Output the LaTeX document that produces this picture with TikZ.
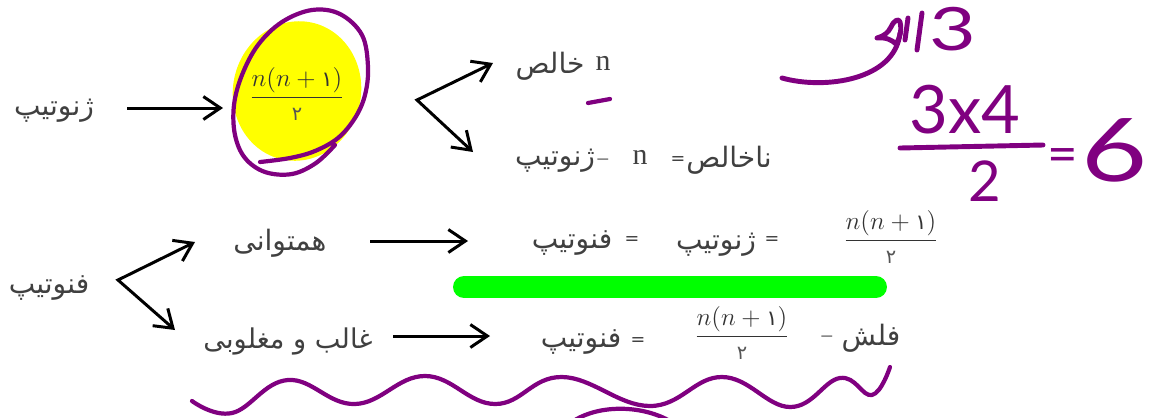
\documentclass[tikz,border=0pt]{standalone}
\usepackage{amsmath}
\usepackage{fontspec}
\usetikzlibrary{arrows.meta}
\TeXXeTstate=1
\newfontfamily\fa[Script=Arabic]{DejaVu Sans}
\newfontfamily\ser{Liberation Serif}
\newfontfamily\hand{Lato}
\definecolor{txt}{HTML}{404040}
\definecolor{frc}{HTML}{333333}
\definecolor{dig}{HTML}{555555}
\definecolor{pur}{HTML}{800080}
\definecolor{grn}{HTML}{00FF00}
\definecolor{yel}{HTML}{FFFF00}
\newcommand\rtl[1]{\beginR#1\endR}
\newcommand\nfrac{$\dfrac{n(n+\mbox{\fa\fontsize{12}{13}\selectfont ۱})}{\mbox{\fa\fontsize{11}{12}\selectfont\color{dig}۲}}$}
\tikzset{
  arr/.style={-{Straight Barb[length=3.4mm,width=4.6mm]}, line width=1.7pt, black},
  arrtwo/.style={{Straight Barb[length=3.4mm,width=4.6mm]}-{Straight Barb[length=3.4mm,width=4.6mm]}, line width=1.7pt, black, line join=miter},
  fatext/.style={font=\fa\fontsize{16}{19}\selectfont, text=txt, inner sep=0pt},
  lat/.style={font=\ser\fontsize{17}{20}\selectfont, text=txt, inner sep=0pt},
  sym/.style={font=\fa\fontsize{10}{12}\selectfont, text=txt, inner sep=0pt},
  dashsym/.style={font=\ser\fontsize{12}{14}\selectfont, text=txt, inner sep=0pt},
  fracnode/.style={font=\fontsize{14}{17}\selectfont, text=frc, inner sep=0pt},
  hw/.style={font=\hand\fontsize{38}{40}\selectfont, text=pur, inner sep=0pt},
  pen/.style={draw=pur, line width=2.4pt, line cap=round, line join=round},
  hpen/.style={draw=pur, line width=2.8pt, line cap=round, line join=round},
}
\begin{document}
\begin{tikzpicture}[x=0.02cm,y=-0.02cm]
\clip (0,0) rectangle (1157,417);
\fill[white] (0,0) rectangle (1157,417);
% green highlight
\coordinate (gA) at (464,287);
\coordinate (gB) at (876,287);
\draw[grn, line width=12.5pt, line cap=round] (gA) -- (gB);
% yellow blob and purple loop
\fill[yel, rotate around={-12:(297,91)}] (297,91) ellipse [x radius=64, y radius=70];
\draw[pen] plot[smooth, tension=0.6] coordinates {(260,162) (290,158) (315,151) (338,138) (355,118) (365,95) (368,67) (362,35) (340,14) (312,10) (282,22) (258,45) (242,75) (234,105) (235,135) (245,158) (265,172) (292,174) (316,163) (335,145)};
% first part
\node[fatext] (g1) at (54,111) {\rtl{ژنوتیپ}};
\node[fracnode, font=\fontsize{15}{18}\selectfont] (f1) at (297,94) {\nfrac};
\coordinate (a1s) at (127,108);
\coordinate (a1e) at (223,108);
\draw[arr] (a1s) -- (a1e);
\coordinate (v1) at (417,100);
\coordinate (v1u) at (493,63);
\coordinate (v1d) at (473,152);
\draw[arrtwo] (v1u) -- (v1) -- (v1d);
\node[fatext] (x1) at (550,66) {\rtl{خالص}};
\node[lat] (n1) at (603,63) {n};
\coordinate (m1) at (588,103);
\coordinate (m2) at (610,99);
\draw[pen] (m1) -- (m2);
\node[fatext] (g2) at (555,161) {\rtl{ژنوتیپ}};
\node[dashsym] (d2) at (603,162) {–};
\node[lat] (n2) at (640,157) {n};
\node[sym] (e2) at (678,161) {=};
\node[fatext] (nx) at (729,160) {\rtl{ناخالص}};
% second part
\node[fatext] (p1) at (49,288) {\rtl{فنوتیپ}};
\coordinate (v2) at (118,280);
\coordinate (v2u) at (195,242);
\coordinate (v2d) at (175,330);
\draw[arrtwo] (v2u) -- (v2) -- (v2d);
\node[fatext] (h) at (280,243) {\rtl{همتوانی}};
\coordinate (a2s) at (370,241);
\coordinate (a2e) at (468,241);
\draw[arr] (a2s) -- (a2e);
\node[fatext] (p2) at (572,243) {\rtl{فنوتیپ}};
\node[sym] (e3) at (632,241) {=};
\node[fatext] (g3) at (716,245) {\rtl{ژنوتیپ}};
\node[sym] (e4) at (772,241) {=};
\node[fracnode] (f2) at (891,237) {\nfrac};
\node[fatext, font=\fa\fontsize{15.5}{18}\selectfont] (gm) at (288,341) {\rtl{غالب و مغلوبی}};
\coordinate (a3s) at (393,336);
\coordinate (a3e) at (490,336);
\draw[arr] (a3s) -- (a3e);
\node[fatext] (p3) at (581,342) {\rtl{فنوتیپ}};
\node[sym] (e5) at (638,342) {=};
\node[fracnode] (f3) at (742,333) {\nfrac};
\node[dashsym] (d3) at (827,339) {–};
\node[fatext] (fl) at (871,338) {\rtl{فلش}};
% wavy underline
\draw[pen] plot[smooth, tension=0.7] coordinates {(192,401) (232,413) (288,380) (355,404) (425,376) (495,404) (562,377) (650,406) (722,377) (790,407) (840,378) (872,395) (890,367)};
\coordinate (b1) at (575,420);
\coordinate (b2) at (668,420);
\draw[pen] (b1) .. controls (600,405) and (640,405) .. (b2);
% handwriting upper right
\coordinate (s1) at (782,78);
\coordinate (s2) at (900,33);
\draw[hpen] (s1) .. controls (825,90) and (895,80) .. (s2);
\draw[hpen] (877,38) .. controls (884,36) and (888,33) .. (891,27) .. controls (894,20) and (899,18) .. (900,22) .. controls (902,30) and (900,38) .. (896,44) .. controls (892,40) and (886,37) .. (877,38);
\draw[hpen] (908,18) -- (905,40);
\draw[hpen] (922,13) -- (917,50);
\node[hw, font=\hand\fontsize{34}{36}\selectfont, xscale=1.35] (h3) at (953,29) {3};
\node[hw] (h34) at (965,110) {3x4};
\coordinate (fb1) at (900,148);
\coordinate (fb2) at (1043,145);
\draw[hpen] (fb1) -- (fb2);
\node[hw, font=\hand\fontsize{32}{34}\selectfont] (h2) at (985,181) {2};
\node[hw, font=\hand\fontsize{30}{32}\selectfont] (heq) at (1063,161) {=};
\node[hw, font=\hand\fontsize{50}{52}\selectfont, xscale=1.3] (h6) at (1115,150) {6};
\end{tikzpicture}
\end{document}
